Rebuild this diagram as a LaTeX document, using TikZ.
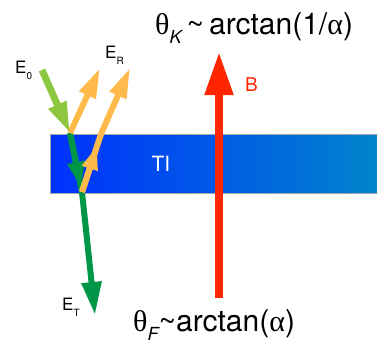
\documentclass[tikz,border=0pt]{standalone}
\usepackage{fontspec}
\setmainfont{TeX Gyre Heros}
\newfontfamily\grk{Liberation Serif}
\usetikzlibrary{arrows.meta,calc}
\definecolor{lgreen}{RGB}{141,198,63}
\definecolor{dgreen}{RGB}{0,150,72}
\definecolor{orng}{RGB}{255,186,75}
\definecolor{redB}{RGB}{255,38,0}
\definecolor{slabL}{RGB}{0,48,255}
\definecolor{slabR}{RGB}{0,132,204}
\tikzset{
  ray/.style={line width=#1},
  lbl/.style={inner sep=0pt, anchor=base west, font=\fontsize{17}{17}\selectfont},
  big/.style={inner sep=0pt, anchor=base west, font=\fontsize{30}{34}\selectfont},
}
\newcommand{\lsub}[1]{\raisebox{-0.38em}{\fontsize{10}{10}\selectfont #1}}
\newcommand{\bsub}[1]{\raisebox{-0.33em}{\fontsize{18}{18}\selectfont\itshape #1}}
\begin{document}
\begin{tikzpicture}[x=1pt,y=-1pt]
\useasboundingbox (0,0) rectangle (377,343);
% slab
\shade[left color=slabL, right color=slabR] (50,134) rectangle (377,193);
\draw[gray!70, line width=0.8] (50,134) rectangle (377,193);
\node[inner sep=0pt, text=white, font=\fontsize{21}{21}\selectfont] (ti) at (161,164) {TI};
% points
\coordinate (e0) at (42,70);
\coordinate (p1) at (70,133);
\coordinate (p2) at (82,192);
\coordinate (p3) at (101,134);
\coordinate (r1) at (100,68);
\coordinate (r2) at (130,68);
\coordinate (et) at (95,315);
\coordinate (bb) at (219,298);
\coordinate (bt) at (219,52);
% transmitted inside slab
\draw[dgreen, ray=6] (p1) -- (p2);
\draw[dgreen, ray=6, -{Triangle[length=26pt,width=16pt]}] (p1) -- ($(p1)!0.93!(p2)$);
% transmitted out
\draw[dgreen, ray=6, -{Triangle[length=33pt,width=19pt]}] (p2) -- (et);
% reflected inside slab
\draw[orng, ray=6] (p2) -- (p3);
\draw[orng, ray=6, -{Triangle[length=24pt,width=15pt]}] (p2) -- ($(p2)!0.8!(p3)$);
% reflected out
\draw[orng, ray=6, -{Triangle[length=30pt,width=17pt]}] (p1) -- (r1);
\draw[orng, ray=6, -{Triangle[length=30pt,width=17pt]}] (p3) -- (r2);
% incident
\draw[lgreen, ray=7, -{Triangle[length=31pt,width=18pt]}] (e0) -- (p1);
% B field
\draw[redB, ray=8, -{Triangle[length=43pt,width=27pt]}] (bb) -- (bt);
% labels
\node[lbl] (l0) at (15,73) {E\lsub{0}};
\node[lbl] (lr) at (105,58) {E\lsub{R}};
\node[lbl] (lt) at (62,310) {E\lsub{T}};
\node[inner sep=0pt, anchor=base west, text=redB, font=\fontsize{19}{19}\selectfont] (lb) at (245,91) {B};
\node[big] (tk) at (155,34) {{\grk θ}\bsub{K}\,\textasciitilde\,arctan(1/{\grk α})};
\node[big] (tf) at (133,331) {{\grk θ}\bsub{F}\textasciitilde arctan({\grk α})};
\end{tikzpicture}
\end{document}
